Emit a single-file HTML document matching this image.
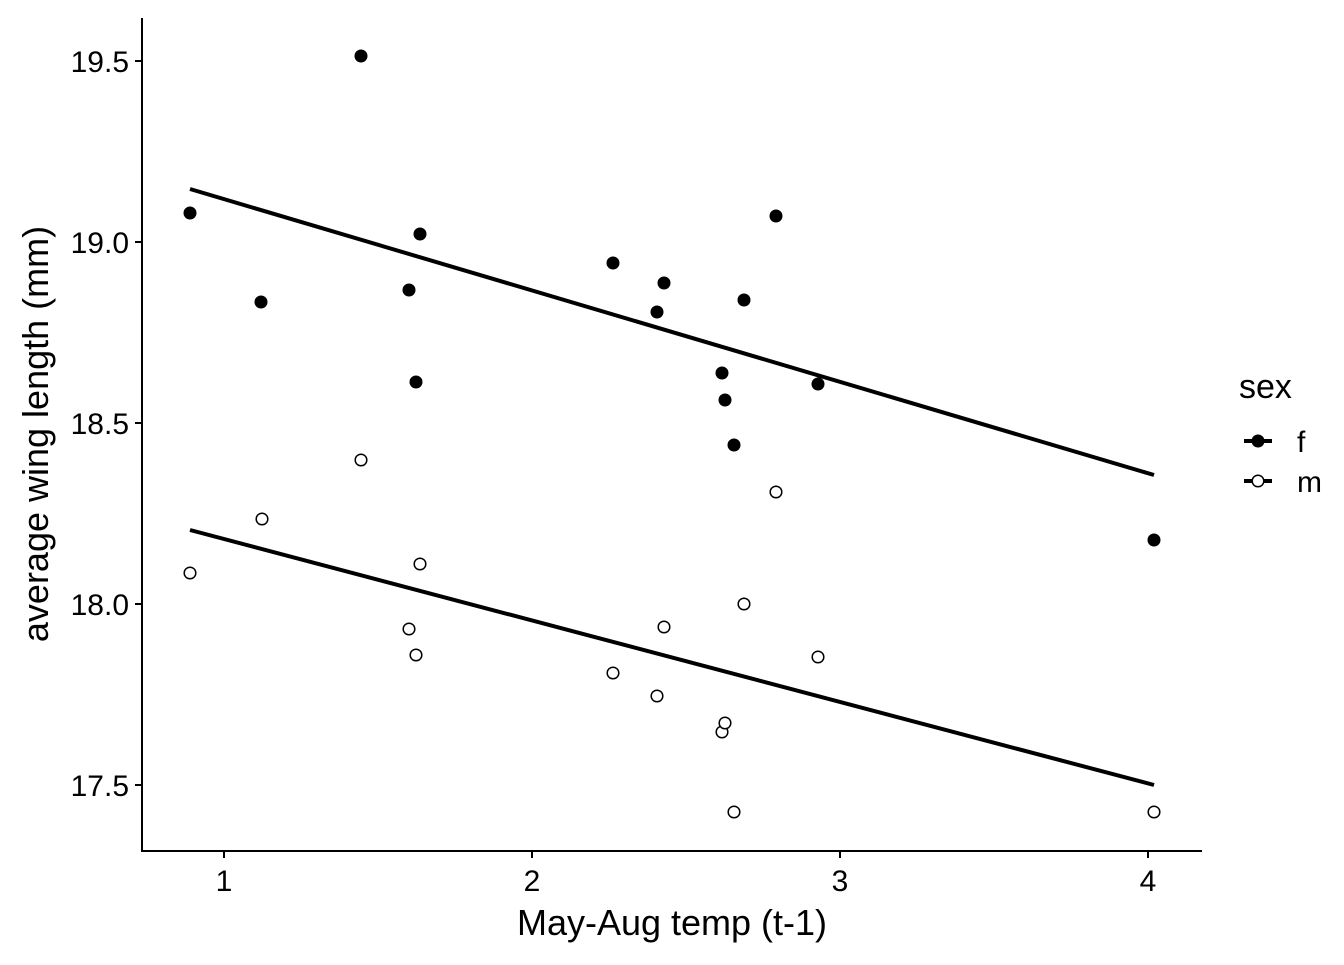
<!DOCTYPE html>
<html><head><meta charset="utf-8"><style>body{margin:0;background:#fff}</style></head><body>
<svg width="1344" height="960" xmlns="http://www.w3.org/2000/svg" font-family="Liberation Sans, sans-serif">
<rect width="1344" height="960" fill="#fff"/>
<g stroke="#000" stroke-width="2" fill="none">
<line x1="142" y1="18" x2="142" y2="852"/>
<line x1="141" y1="851" x2="1202" y2="851"/>
<line x1="224" y1="851" x2="224" y2="858"/><line x1="532" y1="851" x2="532" y2="858"/>
<line x1="840" y1="851" x2="840" y2="858"/><line x1="1148" y1="851" x2="1148" y2="858"/>
<line x1="135" y1="61" x2="142" y2="61"/><line x1="135" y1="242" x2="142" y2="242"/>
<line x1="135" y1="423" x2="142" y2="423"/><line x1="135" y1="604" x2="142" y2="604"/>
<line x1="135" y1="785" x2="142" y2="785"/>
</g>
<g font-size="30" fill="#000" text-anchor="end">
<text x="129" y="72">19.5</text><text x="129" y="253">19.0</text><text x="129" y="434">18.5</text><text x="129" y="615">18.0</text><text x="129" y="796">17.5</text>
</g>
<g font-size="30" fill="#000" text-anchor="middle">
<text x="224" y="891">1</text><text x="532" y="891">2</text><text x="840" y="891">3</text><text x="1148" y="891">4</text>
</g>
<text x="672" y="935" font-size="36" text-anchor="middle">May-Aug temp (t-1)</text>
<text transform="translate(48,434) rotate(-90)" font-size="36" text-anchor="middle">average wing length (mm)</text>
<g stroke="#000" stroke-width="4">
<line x1="190" y1="189" x2="1154" y2="475"/>
<line x1="190" y1="530" x2="1154" y2="785"/>
</g>
<g fill="#000">
<circle cx="190" cy="213" r="6.5"/><circle cx="261" cy="302" r="6.5"/><circle cx="361" cy="56" r="6.5"/><circle cx="409" cy="290" r="6.5"/><circle cx="416" cy="382" r="6.5"/><circle cx="420" cy="234" r="6.5"/><circle cx="613" cy="263" r="6.5"/><circle cx="657" cy="312" r="6.5"/><circle cx="664" cy="283" r="6.5"/><circle cx="722" cy="373" r="6.5"/><circle cx="725" cy="400" r="6.5"/><circle cx="734" cy="445" r="6.5"/><circle cx="744" cy="300" r="6.5"/><circle cx="776" cy="216" r="6.5"/><circle cx="818" cy="384" r="6.5"/><circle cx="1154" cy="540" r="6.5"/>
</g>
<g fill="#fff" stroke="#000" stroke-width="1.5">
<circle cx="190" cy="573" r="5.8"/><circle cx="262" cy="519" r="5.8"/><circle cx="361" cy="460" r="5.8"/><circle cx="409" cy="629" r="5.8"/><circle cx="416" cy="655" r="5.8"/><circle cx="420" cy="564" r="5.8"/><circle cx="613" cy="673" r="5.8"/><circle cx="657" cy="696" r="5.8"/><circle cx="664" cy="627" r="5.8"/><circle cx="722" cy="732" r="5.8"/><circle cx="725" cy="723" r="5.8"/><circle cx="734" cy="812" r="5.8"/><circle cx="744" cy="604" r="5.8"/><circle cx="776" cy="492" r="5.8"/><circle cx="818" cy="657" r="5.8"/><circle cx="1154" cy="812" r="5.8"/>
</g>
<text x="1239" y="398" font-size="34">sex</text>
<line x1="1244" y1="441" x2="1272" y2="441" stroke="#000" stroke-width="4"/>
<circle cx="1258" cy="441" r="6.5"/>
<line x1="1244" y1="481" x2="1272" y2="481" stroke="#000" stroke-width="4"/>
<circle cx="1258" cy="481" r="5.8" fill="#fff" stroke="#000" stroke-width="1.5"/>
<text x="1297" y="452" font-size="30">f</text>
<text x="1297" y="492" font-size="30">m</text>
</svg>
</body></html>
